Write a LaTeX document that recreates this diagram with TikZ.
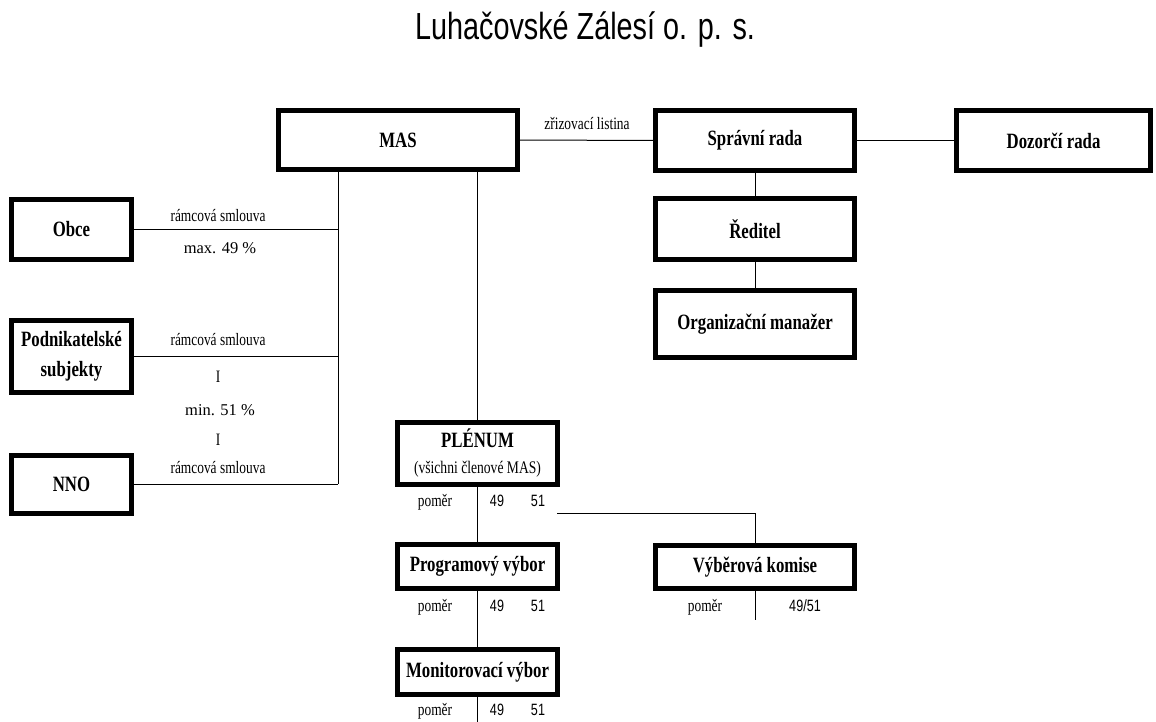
\documentclass[tikz,border=0pt]{standalone}
\usepackage{fontspec}
\usepackage{graphicx}
\setmainfont{Liberation Serif}
\newfontfamily\sansf{Liberation Sans}
\newcommand\vsc[1]{\scalebox{1}[1.3]{#1}}
\tikzset{
  box/.style={draw, line width=5pt, inner sep=0pt, outer sep=0pt, align=center,
    font=\bfseries\fontsize{16.8}{20}\selectfont},
  lbl/.style={inner sep=0pt, anchor=base, font=\fontsize{13.4}{16}\selectfont},
  pct/.style={inner sep=0pt, anchor=base, font=\fontsize{16.5}{20}\selectfont},
  num/.style={inner sep=0pt, anchor=base, font=\sansf\fontsize{12.6}{15}\selectfont},
  conn/.style={line width=1pt},
}
\begin{document}
\begin{tikzpicture}[x=1pt,y=-1pt]
\useasboundingbox (0,0) rectangle (1156,722);
% title
\node[inner sep=0pt, anchor=base, font=\sansf\fontsize{28.8}{34}\selectfont] (title) at (585,40)
  {\scalebox{1}[1.31]{Luhačovské Zálesí o. p. s.}};
% boxes
\node[box, minimum width=239pt, minimum height=59pt] (mas) at (398,140) {\vsc{MAS}};
\node[box, minimum width=199pt, minimum height=60pt] (spr) at (755,140.5) {\vsc{Správní rada}};
\node[box, minimum width=194pt, minimum height=60pt] (doz) at (1053.5,140.5) {\vsc{Dozorčí rada}};
\node[box, minimum width=199pt, minimum height=61pt] (red) at (755,229) {\vsc{Ředitel}};
\node[box, minimum width=199pt, minimum height=67pt] (org) at (755,324) {\vsc{Organizační manažer}};
\node[box, minimum width=120pt, minimum height=60pt] (obce) at (71.5,229.5) {\vsc{Obce}};
\node[box, minimum width=120pt, minimum height=72pt] (pod) at (71.5,356.5) {\vsc{Podnikatelské}\\[10pt]\vsc{subjekty}};
\node[box, minimum width=120pt, minimum height=58pt] (nno) at (71.5,484) {\vsc{NNO}};
\node[box, minimum width=160pt, minimum height=62pt] (ple) at (477.5,453.5)
  {\vsc{PLÉNUM}\\[6pt]{\mdseries\fontsize{13.6}{16}\selectfont\vsc{(všichni členové MAS)}}};
\node[box, minimum width=160pt, minimum height=44pt] (prog) at (477.5,566.5) {\vsc{Programový výbor}};
\node[box, minimum width=160pt, minimum height=45pt] (mon) at (477.5,672) {\vsc{Monitorovací výbor}};
\node[box, minimum width=199pt, minimum height=43pt] (vyb) at (755,567) {\vsc{Výběrová komise}};
% helper coordinates
\coordinate (jx) at (338,484);
\coordinate (pv) at (557,513);
\coordinate (vend) at (755,620);
\coordinate (mend) at (477.5,722);
% connectors
\draw[conn] (mas.east) -- (spr.west);
\draw[conn] (spr.east) -- (doz.west);
\draw[conn] (spr.south) -- (red.north);
\draw[conn] (red.south) -- (org.north);
\draw[conn] (mas.south -| jx) -- (nno.east -| jx);
\draw[conn] (obce.east) -- (obce.east -| jx);
\draw[conn] (pod.east) -- (pod.east -| jx);
\draw[conn] (nno.east) -- (nno.east -| jx);
\draw[conn] (ple.north |- mas.south) -- (ple.north);
\draw[conn] (ple.south) -- (prog.north);
\draw[conn] (prog.south) -- (mon.north);
\draw[conn] (mon.south) -- (mend);
\draw[conn] (pv) -- (pv -| vyb.north) -- (vyb.north);
\draw[conn] (vyb.south) -- (vend);
% labels
\node[lbl] (lz) at (587,130) {\vsc{zřizovací listina}};
\node[lbl] (l1) at (218,222) {\vsc{rámcová smlouva}};
\node[pct] (l2) at (220,253) {max. 49 \%};
\node[lbl] (l3) at (218,345) {\vsc{rámcová smlouva}};
\node[lbl] (i1) at (218,382) {\vsc{I}};
\node[pct] (l4) at (220,415) {min. 51 \%};
\node[lbl] (i2) at (218,445) {\vsc{I}};
\node[lbl] (l5) at (218,473) {\vsc{rámcová smlouva}};
% ratios
\node[lbl] (p1) at (435,506) {\vsc{poměr}};
\node[num] (a1) at (497,506) {\vsc{49}};
\node[num] (b1) at (538,506) {\vsc{51}};
\node[lbl] (p2) at (435,611) {\vsc{poměr}};
\node[num] (a2) at (497,611) {\vsc{49}};
\node[num] (b2) at (538,611) {\vsc{51}};
\node[lbl] (p3) at (435,715) {\vsc{poměr}};
\node[num] (a3) at (497,715) {\vsc{49}};
\node[num] (b3) at (538,715) {\vsc{51}};
\node[lbl] (p4) at (705,611) {\vsc{poměr}};
\node[num] (a4) at (805,611) {\vsc{49/51}};
\end{tikzpicture}
\end{document}
